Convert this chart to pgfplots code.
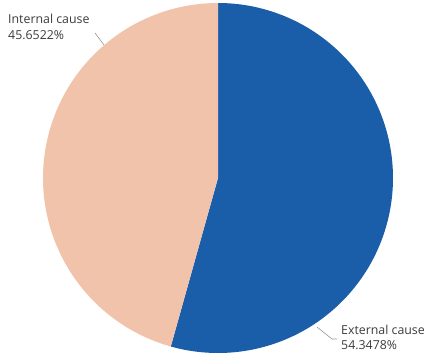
\documentclass[border=0pt]{standalone}
\usepackage{pgfplots}
\pgfplotsset{compat=1.18}
\usepackage{fontspec}
\setmainfont{Open Sans}
\definecolor{extblue}{RGB}{26,94,170}
\definecolor{intpeach}{RGB}{241,195,171}
\definecolor{labelgray}{RGB}{60,60,60}
\definecolor{leadergray}{RGB}{150,150,150}

% shares in percent
\def\extshare{54.3478}
\def\intshare{45.6522}
% pie centre and radius in picture units
\def\cx{218}
\def\cy{178}
\def\rad{175}

\begin{document}
\begin{tikzpicture}[lbl/.style={anchor=base west, inner sep=0pt, text=labelgray,
  font=\fontsize{12.4}{15}\selectfont}]
\begin{axis}[
  scale only axis, width=425bp, height=354bp,
  xmin=0, xmax=425, ymin=0, ymax=354, y dir=reverse,
  hide axis, clip=false,
]
% External cause: clockwise from 12 o'clock
\addplot[draw=none, fill=extblue, domain=0:\extshare, samples=200, variable=\t]
  ({\cx+\rad*sin(3.6*\t)}, {\cy-\rad*cos(3.6*\t)}) -- (axis cs:\cx,\cy) -- cycle;
% Internal cause: remainder of the circle
\addplot[draw=none, fill=intpeach, domain=\extshare:100, samples=200, variable=\t]
  ({\cx+\rad*sin(3.6*\t)}, {\cy-\rad*cos(3.6*\t)}) -- (axis cs:\cx,\cy) -- cycle;

% leader lines
\draw[leadergray, line width=0.6pt] (axis cs:95,33) -- (axis cs:104,45);
\draw[leadergray, line width=0.6pt] (axis cs:317,327) -- (axis cs:332,339) -- (axis cs:337,339);

% labels
\node[lbl] at (axis cs:8,24) {Internal cause};
\node[lbl] at (axis cs:8,39.3) {45.6522\%};
\node[lbl] at (axis cs:341,334.7) {External cause};
\node[lbl] at (axis cs:341,349.7) {54.3478\%};

% keep the full frame as the picture's extent
\path (rel axis cs:0,0) rectangle (rel axis cs:1,1);
\end{axis}
\end{tikzpicture}
\end{document}
